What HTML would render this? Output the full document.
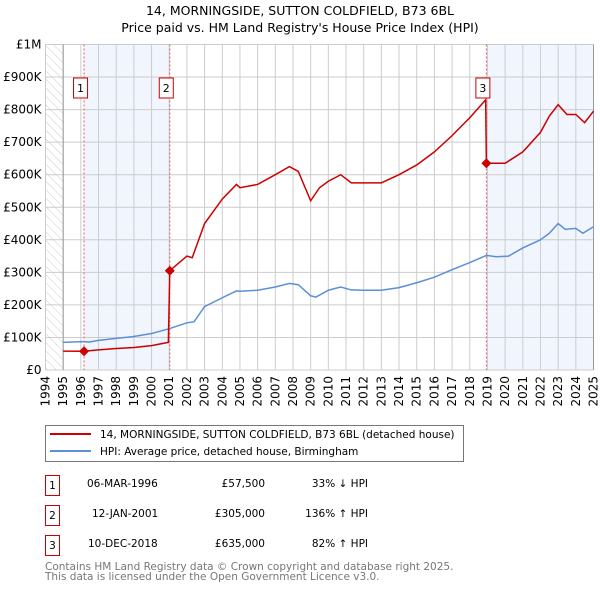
<!DOCTYPE html>
<html><head><meta charset="utf-8"><style>
body{margin:0;background:#fff;}
svg{display:block;font-family:"DejaVu Sans","Liberation Sans",sans-serif;}
</style></head><body>
<svg id="c" width="600" height="590" viewBox="0 0 600 590">
<defs><pattern id="hatch" width="6" height="6" patternUnits="userSpaceOnUse" patternTransform="rotate(-45)"><line x1="0" y1="0" x2="0" y2="6" stroke="#ccc" stroke-width="1"/></pattern></defs>
<text x="300" y="15" text-anchor="middle" font-size="12.5" fill="#000">14, MORNINGSIDE, SUTTON COLDFIELD, B73 6BL</text>
<text x="300" y="32" text-anchor="middle" font-size="12.5" fill="#000">Price paid vs. HM Land Registry's House Price Index (HPI)</text>
<g id="plot"></g>
<g>
<rect x="45.5" y="425.5" width="418" height="36" fill="#fff" stroke="#777"/>
<line x1="50" y1="434" x2="91" y2="434" stroke="#cc0000" stroke-width="2"/>
<text x="100" y="438" font-size="10.5">14, MORNINGSIDE, SUTTON COLDFIELD, B73 6BL (detached house)</text>
<line x1="50" y1="451" x2="91" y2="451" stroke="#5b8fd6" stroke-width="2"/>
<text x="100" y="455" font-size="10.5">HPI: Average price, detached house, Birmingham</text>
</g>
<g font-size="10.5">
<rect x="45.5" y="475.5" width="14" height="20" fill="#fff" stroke="#cc0000"/><text x="52.5" y="489" text-anchor="middle">1</text>
<text x="87" y="487">06-MAR-1996</text><text x="265" y="487" text-anchor="end">£57,500</text><text x="368" y="487" text-anchor="end">33% ↓ HPI</text>
<rect x="45.5" y="505.5" width="14" height="20" fill="#fff" stroke="#cc0000"/><text x="52.5" y="519" text-anchor="middle">2</text>
<text x="92" y="517">12-JAN-2001</text><text x="265" y="517" text-anchor="end">£305,000</text><text x="368" y="517" text-anchor="end">136% ↑ HPI</text>
<rect x="45.5" y="535.5" width="14" height="20" fill="#fff" stroke="#cc0000"/><text x="52.5" y="549" text-anchor="middle">3</text>
<text x="88" y="547">10-DEC-2018</text><text x="265" y="547" text-anchor="end">£635,000</text><text x="368" y="547" text-anchor="end">82% ↑ HPI</text>
</g>
<text x="45" y="570" font-size="10.5" fill="#777">Contains HM Land Registry data © Crown copyright and database right 2025.</text>
<text x="45" y="580" font-size="10.5" fill="#777">This data is licensed under the Open Government Licence v3.0.</text>
</svg>
<script>
const yTicks=[0,100000,200000,300000,400000,500000,600000,700000,800000,900000,1000000];
const yTickLabels=["£0","£100K","£200K","£300K","£400K","£500K","£600K","£700K","£800K","£900K","£1M"];
const years=[1994,1995,1996,1997,1998,1999,2000,2001,2002,2003,2004,2005,2006,2007,2008,2009,2010,2011,2012,2013,2014,2015,2016,2017,2018,2019,2020,2021,2022,2023,2024,2025];
const hpiT=[1995,1996,1996.5,1997,1998,1999,2000,2001,2002,2002.4,2003,2004,2004.8,2005,2006,2007,2007.8,2008.3,2009,2009.3,2010,2010.7,2011.3,2012,2013,2014,2015,2016,2017,2018,2018.94,2019.5,2020.2,2021,2022,2022.5,2023,2023.4,2024,2024.4,2025];
const hpiV=[85000,87000,86000,91000,97000,103000,112000,127000,145000,148000,195000,222000,243000,242000,245000,255000,266000,262000,228000,224000,245000,255000,246000,245000,245000,253000,268000,285000,308000,330000,352000,348000,350000,375000,400000,420000,450000,432000,435000,420000,440000];
const redT=[1995,1996.18,1997,1998,1999,2000,2000.95,2001.03,2002,2002.3,2003,2004,2004.8,2005,2006,2007,2007.8,2008.3,2009,2009.5,2010,2010.7,2011.3,2012,2013,2014,2015,2016,2017,2018,2018.9,2018.94,2020,2021,2022,2022.5,2023,2023.5,2024,2024.5,2025];
const redV=[58000,57500,62000,66000,69000,75000,85000,305000,350000,345000,450000,525000,570000,560000,570000,600000,625000,610000,520000,560000,580000,600000,575000,575000,575000,600000,630000,670000,720000,775000,830000,635000,635000,670000,730000,780000,815000,785000,785000,760000,795000];
const saleT=[1996.18,2001.03,2018.94];
const saleV=[57500,305000,635000];
const saleLabels=["1","2","3"];
const NS="http://www.w3.org/2000/svg";
const X0=45.5,X1=593.5,Y0=370,Y1=44.5;
const xs=t=>X0+(t-1994)/(2025-1994)*(X1-X0);
const ys=v=>Y0-v/1000000*(Y0-Y1);
const g=document.getElementById('plot');
function mk(tag,a){const e=document.createElementNS(NS,tag);for(const k in a)e.setAttribute(k,a[k]);g.appendChild(e);return e;}
let e;
e=mk('rect',{x:X0,y:Y1,width:X1-X0,height:Y0-Y1,fill:'#fff'});
e=mk('rect',{x:X0,y:Y1,width:xs(1995)-X0,height:Y0-Y1,fill:'url(#hatch)'});


e=mk('rect',{x:xs(saleT[0]),y:Y1,width:xs(saleT[1])-xs(saleT[0]),height:Y0-Y1,fill:'#eef2fc',opacity:0.8});


e=mk('rect',{x:xs(saleT[2]),y:Y1,width:X1-xs(saleT[2]),height:Y0-Y1,fill:'#eef2fc',opacity:0.8});


yTicks.forEach((v,i)=>{
 e=mk('line',{x1:X0,x2:X1,y1:ys(v),y2:ys(v),stroke:'#ccc','stroke-width':1});
 
 
 e=mk('text',{x:X0-4,y:ys(v)+4,'text-anchor':'end','font-size':12});
 e.textContent=yTickLabels[i];
 
 
});
years.forEach(yr=>{
 const x=xs(yr);
 e=mk('line',{x1:x,x2:x,y1:Y1,y2:Y0,stroke:'#ccc','stroke-width':1});
 
 
 e=mk('text',{x:0,y:0,'font-size':12,'text-anchor':'end',transform:`translate(${x+4},${Y0+6}) rotate(-90)`});
 e.textContent=yr;
 
 
});
e=mk('line',{x1:xs(1995),x2:xs(1995),y1:Y1,y2:Y0,stroke:'#999'});
e=mk('line',{x1:X1,x2:X1,y1:Y1,y2:Y0,stroke:'#999'});
saleT.forEach((t,i)=>{
 e=mk('line',{x1:xs(t),x2:xs(t),y1:Y1,y2:Y0,stroke:'#e06060','stroke-dasharray':'2,2','stroke-width':1});
 
 
});
e=mk('polyline',{points:hpiT.map((t,i)=>xs(t)+','+ys(hpiV[i])).join(' '),fill:'none',stroke:'#5b8fd6','stroke-width':1.5});


e=mk('polyline',{points:redT.map((t,i)=>xs(t)+','+ys(redV[i])).join(' '),fill:'none',stroke:'#cc0000','stroke-width':1.5});


saleT.forEach((t,i)=>{
 const x=xs(t),y=ys(saleV[i]);
 e=mk('polygon',{points:`${x},${y-5} ${x+5},${y} ${x},${y+5} ${x-5},${y}`,fill:'#cc0000'});
 
 
 const bx=x-3.5;
 e=mk('rect',{x:bx-7,y:78,width:14,height:20,fill:'#fff',stroke:'#cc0000'});
 
 
 e=mk('text',{x:bx,y:92,'text-anchor':'middle','font-size':11});
 e.textContent=saleLabels[i];
 
 
});
</script>
</body></html>
